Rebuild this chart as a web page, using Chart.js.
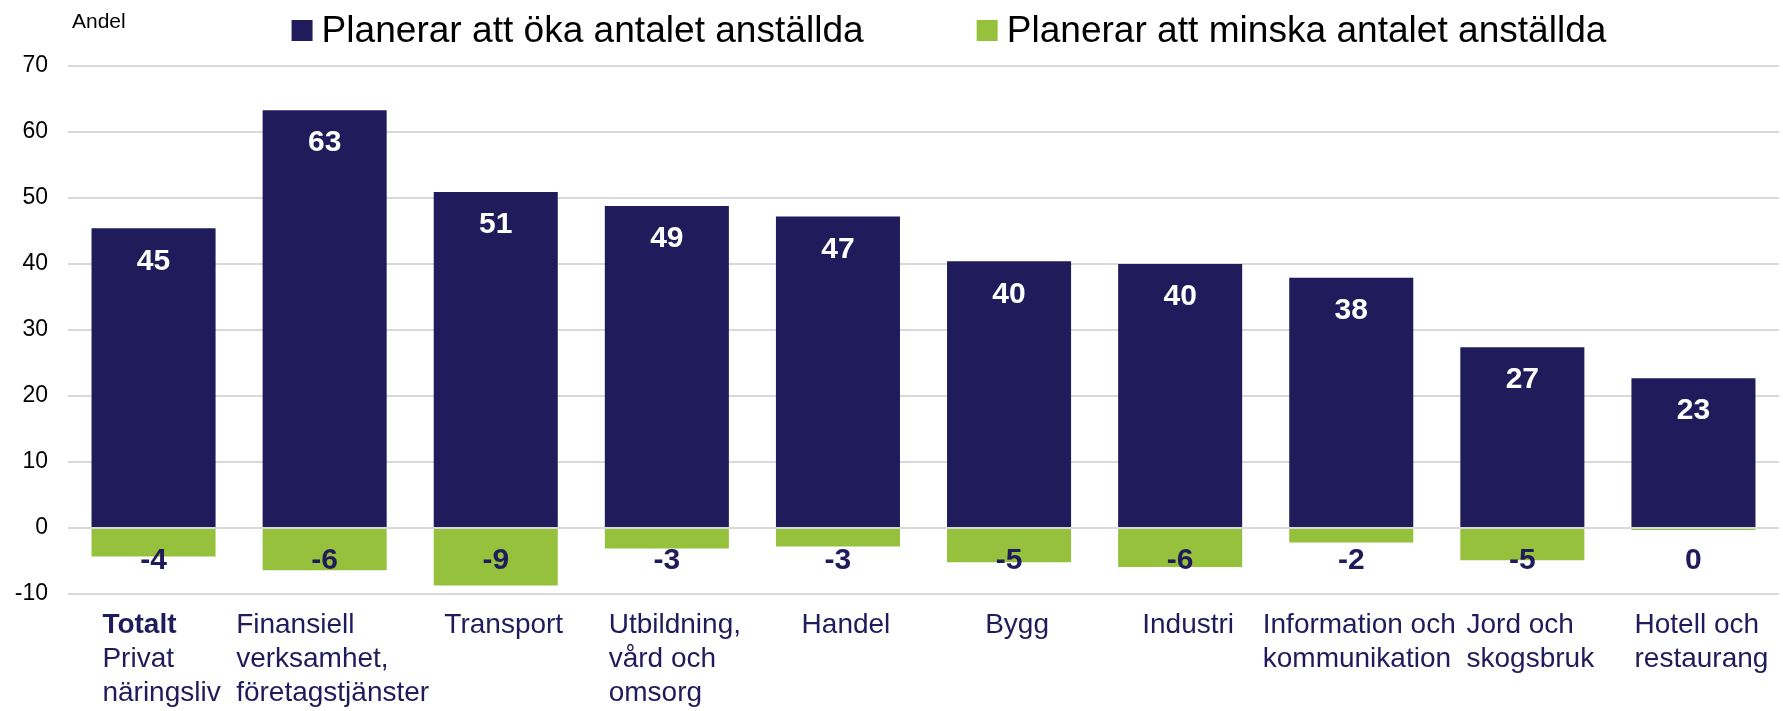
<!DOCTYPE html>
<html>
<head>
<meta charset="utf-8">
<script src="https://cdn.jsdelivr.net/npm/chart.js@4.4.1/dist/chart.umd.min.js"></script>
<style>
  html, body { margin: 0; padding: 0; background: #ffffff; }
  #wrap { width: 1783px; height: 711px; }
</style>
</head>
<body>
<div id="wrap"><canvas id="chart" width="1783" height="711"></canvas></div>
<script>
    const categories = [
        ["Totalt", "Privat", "näringsliv"],
        ["Finansiell", "verksamhet,", "företagstjänster"],
        ["Transport"],
        ["Utbildning,", "vård och", "omsorg"],
        ["Handel"],
        ["Bygg"],
        ["Industri"],
        ["Information och", "kommunikation"],
        ["Jord och", "skogsbruk"],
        ["Hotell och", "restaurang"]
    ];
    const increaseValues = [45.4, 63.3, 50.9, 48.8, 47.2, 40.4, 40.0, 37.9, 27.4, 22.7];
    const decreaseValues = [-4.3, -6.4, -8.7, -3.1, -2.8, -5.2, -5.9, -2.2, -4.9, -0.3];
    const seriesNames = ["Planerar att öka antalet anställda", "Planerar att minska antalet anställda"];
    const yTicks = [-10, 0, 10, 20, 30, 40, 50, 60, 70];
    const axisTitle = "Andel";

    const NAVY = "#201c5c";
    const GREEN = "#96c13d";
    const FONT = "'Liberation Sans', Arial, sans-serif";

    // value labels: white inside the top of the blue bars, navy at a fixed level below zero
    const valueLabels = {
        id: "valueLabels",
        afterDatasetsDraw(chart) {
            const ctx = chart.ctx;
            const y = chart.scales.y;
            ctx.save();
            ctx.font = "bold 30px " + FONT;
            ctx.textAlign = "center";
            ctx.textBaseline = "middle";
            chart.getDatasetMeta(0).data.forEach((bar, i) => {
                ctx.fillStyle = "#ffffff";
                ctx.fillText(String(Math.round(increaseValues[i])), bar.x, bar.y + 33);
            });
            const negY = y.getPixelForValue(-5);
            chart.getDatasetMeta(1).data.forEach((bar, i) => {
                ctx.fillStyle = NAVY;
                ctx.fillText(String(Math.round(decreaseValues[i])), bar.x, negY);
            });
            ctx.restore();
        }
    };

    // category labels: block centred on the category, lines left aligned, "Totalt" in bold
    const categoryLabels = {
        id: "categoryLabels",
        afterDraw(chart) {
            const ctx = chart.ctx;
            const x = chart.scales.x;
            const top = chart.chartArea.bottom + 31;
            ctx.save();
            ctx.fillStyle = NAVY;
            ctx.textAlign = "left";
            ctx.textBaseline = "middle";
            categories.forEach((lines, i) => {
                let w = 0;
                lines.forEach((line, j) => {
                    ctx.font = (i === 0 && j === 0 ? "bold " : "") + "28px " + FONT;
                    w = Math.max(w, ctx.measureText(line).width);
                });
                const left = x.getPixelForValue(i) - w / 2 + 8;
                lines.forEach((line, j) => {
                    ctx.font = (i === 0 && j === 0 ? "bold " : "") + "28px " + FONT;
                    ctx.fillText(line, left, top + j * 34);
                });
            });
            ctx.restore();
        }
    };

    // legend and axis title at the top
    const topTexts = {
        id: "topTexts",
        afterDraw(chart) {
            const ctx = chart.ctx;
            ctx.save();
            ctx.textAlign = "left";
            ctx.textBaseline = "alphabetic";
            ctx.fillStyle = "#000000";
            ctx.font = "21px " + FONT;
            ctx.fillText(axisTitle, 72, 28);

            ctx.font = "37.1px " + FONT;
            const colors = [NAVY, GREEN];
            const box = 21, gap = 9, itemGap = 113;
            const widths = seriesNames.map(s => ctx.measureText(s).width);
            const total = widths.reduce((a, b) => a + b, 0) + 2 * (box + gap) + itemGap;
            let cx = 949 - total / 2;
            seriesNames.forEach((name, i) => {
                ctx.fillStyle = colors[i];
                ctx.fillRect(cx, 20, box, box);
                cx += box + gap;
                ctx.fillStyle = "#000000";
                ctx.fillText(name, cx, 42);
                cx += widths[i] + itemGap;
            });
            ctx.restore();
        }
    };

    const ctx = document.getElementById("chart").getContext("2d");
    const chart = new Chart(ctx, {
        type: "bar",
        data: {
            labels: categories.map(l => l.join(" ")),
            datasets: [
                {
                    label: seriesNames[0],
                    data: increaseValues,
                    backgroundColor: NAVY,
                    borderWidth: 0
                },
                {
                    label: seriesNames[1],
                    data: decreaseValues,
                    backgroundColor: GREEN,
                    borderWidth: 0
                }
            ]
        },
        options: {
            responsive: false,
            animation: false,
            devicePixelRatio: 1,
            layout: { padding: { top: 66, bottom: 117, left: 0, right: 4 } },
            datasets: {
                bar: { categoryPercentage: 1, barPercentage: 0.725 }
            },
            plugins: {
                legend: { display: false },
                tooltip: { enabled: false }
            },
            scales: {
                x: {
                    stacked: true,
                    grid: { display: false },
                    border: { display: false },
                    ticks: { display: false },
                    afterFit(scale) {
                        scale.height = 0;
                    }
                },
                y: {
                    stacked: true,
                    min: yTicks[0],
                    max: yTicks[yTicks.length - 1],
                    afterBuildTicks(scale) {
                        scale.ticks = yTicks.map(v => ({ value: v }));
                    },
                    afterFit(scale) {
                        scale.width = 68;
                    },
                    grid: { color: "#d9d9d9", lineWidth: 2, drawTicks: false },
                    border: { display: false },
                    ticks: {
                        color: "#000000",
                        padding: 20,
                        font: { family: FONT, size: 23 }
                    }
                }
            }
        },
        plugins: [valueLabels, categoryLabels, topTexts]
    });
</script>
</body>
</html>
